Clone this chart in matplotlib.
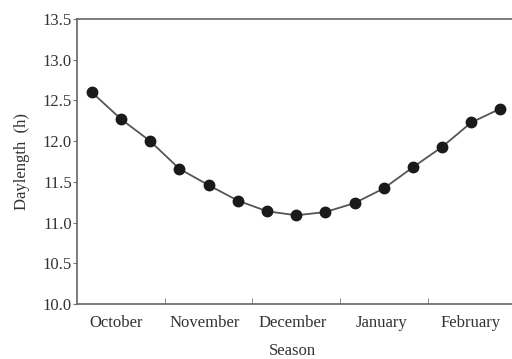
import matplotlib
matplotlib.use("Agg")
import matplotlib.pyplot as plt
import numpy as np

# months on the x axis, one unit per month, October starts at 0
months = ["October", "November", "December", "January", "February"]
# one reading every third of a month, placed mid-period
day_pos = [1/6 + k/3 for k in range(15)]
daylength = [12.60, 12.27, 12.00, 11.66, 11.46, 11.27, 11.14, 11.09,
             11.13, 11.24, 11.42, 11.68, 11.93, 12.23, 12.40]

plt.rcParams["font.family"] = "Liberation Serif"
plt.rcParams["font.size"] = 12

fig = plt.figure(figsize=(5.12, 3.59), dpi=100)
ax = fig.add_axes([0.151, 0.153, 0.855, 0.794])

ax.plot(day_pos, daylength, color="#555555", lw=1.3, marker="o",
        markersize=7.5, markerfacecolor="#1a1a1a", markeredgecolor="#1a1a1a")

ax.set_xlim(0, 5)
ax.set_ylim(10.0, 13.5)
ax.set_yticks(np.arange(10.0, 13.51, 0.5))
ax.set_yticklabels(["%.1f" % v for v in np.arange(10.0, 13.51, 0.5)])

ax.set_xticks([0.44, 1.45, 2.46, 3.48, 4.49])
ax.set_xticklabels(months)
ax.set_xticks([1, 2, 3, 4], minor=True)
ax.tick_params(axis="x", which="major", length=0, pad=8, colors="#333333")
ax.tick_params(axis="x", which="minor", direction="in", length=4, color="#777777")
ax.tick_params(axis="y", direction="out", length=3, pad=1, color="#777777",
               labelcolor="#333333")

for s in ["left", "bottom", "top"]:
    ax.spines[s].set_color("#666666")
    ax.spines[s].set_linewidth(1.2)
ax.spines["right"].set_visible(False)

ax.set_xlabel("Season", color="#333333", labelpad=13)
ax.xaxis.set_label_coords(2.46 / 5, -0.135)
ax.set_ylabel("Daylength  (h)", color="#333333", labelpad=9)

fig.savefig("out.png", dpi=100)
